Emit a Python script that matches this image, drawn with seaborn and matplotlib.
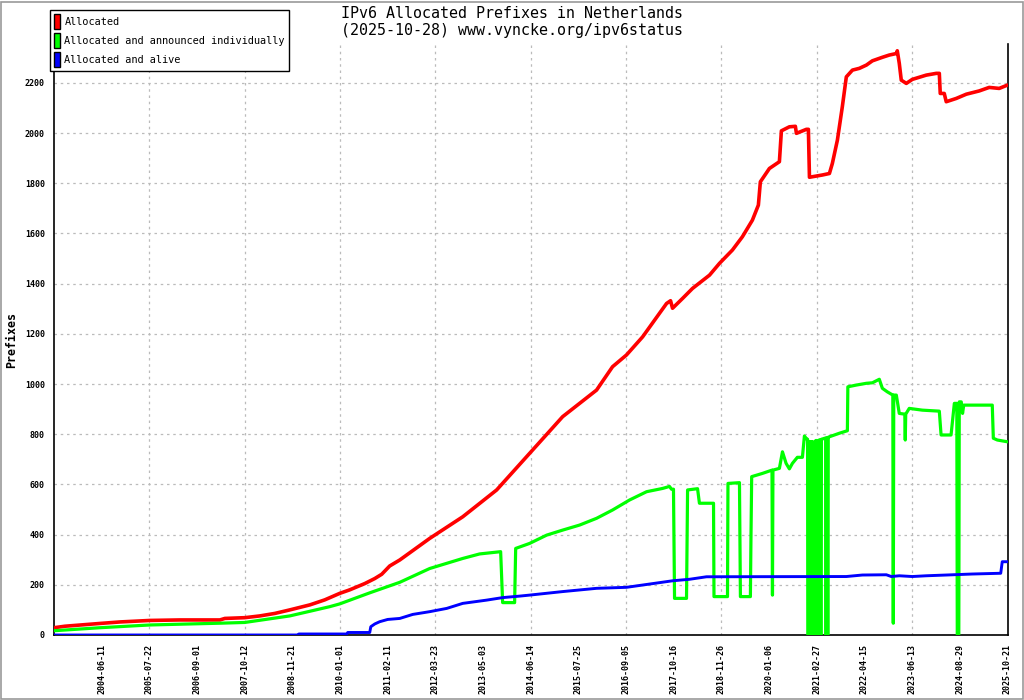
import numpy as np
import pandas as pd
import matplotlib
matplotlib.use("Agg")
import matplotlib.pyplot as plt
import matplotlib.patches as mpatches
import seaborn as sns

# x values are sample numbers along the time axis; a date label every 406 samples
TICK_STEP = 406
tick_labels = ["2004-06-11", "2005-07-22", "2006-09-01", "2007-10-12", "2008-11-21",
               "2010-01-01", "2011-02-11", "2012-03-23", "2013-05-03", "2014-06-14",
               "2015-07-25", "2016-09-05", "2017-10-16", "2018-11-26", "2020-01-06",
               "2021-02-27", "2022-04-15", "2023-06-13", "2024-08-29", "2025-10-21"]

series_names = ["Allocated", "Allocated and announced individually", "Allocated and alive"]

alloc_idx = [0, 94, 391, 562, 817, 1072, 1413, 1455, 1625, 1753, 1881, 2008, 2179, 2306,
             2434, 2519, 2647, 2732, 2791, 2859, 2945, 3200, 3481, 3770, 4051, 4332, 4621,
             4757, 4876, 5013, 5157, 5217, 5251, 5268, 5353, 5438, 5583, 5668, 5778, 5863,
             5948, 5999, 6016, 6093, 6178, 6195, 6263, 6314, 6323, 6408, 6425, 6434, 6544,
             6604, 6629, 6672, 6714, 6748, 6800, 6859, 6919, 6970, 7055, 7114, 7174, 7182,
             7199, 7216, 7259, 7310, 7429, 7514, 7540, 7548, 7582, 7599, 7684, 7770, 7880,
             7965, 8050, 8119]
alloc_val = [29, 35, 46, 52, 58, 60, 60, 66, 69, 76, 86, 100, 120, 140,
             166, 180, 205, 225, 242, 275, 299, 385, 471, 578, 724, 870, 976,
             1069, 1116, 1188, 1282, 1321, 1332, 1302, 1341, 1381, 1434, 1481, 1534, 1587,
             1653, 1713, 1806, 1859, 1886, 2009, 2025, 2027, 1999, 2015, 2015, 1824, 1833,
             1839, 1879, 1972, 2105, 2224, 2251, 2258, 2271, 2288, 2302, 2311, 2317, 2328,
             2278, 2211, 2198, 2214, 2231, 2238, 2238, 2158, 2158, 2125, 2138, 2155, 2168,
             2182, 2178, 2191]

announced_idx = [0, 391, 817, 1413, 1625, 2008, 2349, 2434, 2689, 2945, 3200, 3481, 3625,
                 3804, 3821, 3923, 3932, 4051, 4196, 4332, 4476, 4621, 4757, 4902, 5047,
                 5183, 5242, 5259, 5276, 5285, 5387, 5391, 5396, 5481, 5497, 5617, 5621,
                 5736, 5740, 5838, 5846, 5931, 5936, 5942, 6034, 6115, 6119, 6123, 6178,
                 6204, 6235, 6263, 6289, 6331, 6374, 6391, 6412,
                 6418, 6420, 6428, 6430, 6436, 6438, 6446, 6448, 6454, 6456, 6460, 6462,
                 6478, 6480, 6486, 6488, 6494, 6496, 6502, 6504, 6510, 6512, 6518, 6520,
                 6526, 6528, 6534, 6536, 6572, 6574, 6578, 6580, 6586, 6588, 6592, 6594,
                 6604, 6689, 6757, 6761, 6834, 6919, 6970, 7029, 7055, 7097, 7144, 7148,
                 7152, 7174, 7199, 7246, 7250, 7254, 7284, 7395, 7540, 7555, 7640, 7653,
                 7668, 7689, 7693, 7706, 7710, 7727, 7738, 7748, 7991, 8000, 8034, 8119]
announced_val = [17, 29, 40, 47, 50, 76, 113, 124, 168, 210, 265, 305, 323,
                 332, 129, 129, 345, 365, 398, 418, 438, 465, 498, 538, 571,
                 584, 592, 581, 581, 146, 146, 359, 578, 583, 525, 525, 153,
                 153, 604, 607, 153, 153, 392, 631, 644, 657, 159, 657, 664,
                 730, 684, 662, 684, 708, 708, 793, 780,
                 780, 0, 0, 770, 770, 0, 0, 770, 770, 0, 0, 770,
                 768, 0, 0, 775, 775, 0, 0, 775, 775, 0, 0, 778,
                 778, 0, 0, 780, 785, 0, 0, 785, 785, 0, 0, 788,
                 790, 804, 814, 989, 996, 1003, 1005, 1019, 983, 969, 956, 47,
                 956, 956, 883, 880, 777, 880, 903, 896, 892, 797, 797, 857,
                 923, 923, 0, 0, 929, 929, 883, 916, 916, 784, 777, 770]

alive_idx = [0, 2076, 2085, 2493, 2502, 2689, 2698, 2732, 2774, 2842, 2945, 3055, 3200,
             3345, 3481, 3685, 3821, 3966, 4051, 4332, 4621, 4876, 5072, 5268, 5412, 5557,
             6748, 6885, 7089, 7131, 7199, 7310, 7429, 7599, 7820, 8063, 8076, 8119]
alive_val = [0, 0, 4, 4, 10, 10, 33, 44, 53, 62, 66, 82, 93,
             106, 126, 139, 149, 155, 159, 173, 186, 190, 203, 216, 222, 232,
             233, 239, 240, 233, 236, 233, 236, 239, 243, 246, 292, 292]

colors = ["#ff0000", "#00ff00", "#0000ff"]

sns.set_style("white")
plt.rcParams["font.family"] = ["DejaVu Sans Mono"]
plt.rcParams["text.color"] = "black"
plt.rcParams["axes.labelcolor"] = "black"

fig = plt.figure(figsize=(10.24, 7.0), dpi=100)
ax = fig.add_axes([54 / 1024, 65 / 700, 954 / 1024, 591 / 700])

frames = [
    pd.DataFrame({"idx": alloc_idx, "value": alloc_val}),
    pd.DataFrame({"idx": announced_idx, "value": announced_val}),
    pd.DataFrame({"idx": alive_idx, "value": alive_val}),
]
widths = [2.6, 2.3, 2.1]
for df, c, w in zip(frames, colors, widths):
    sns.lineplot(data=df, x="idx", y="value", color=c, linewidth=w,
                 estimator=None, sort=False, ax=ax, zorder=3)

ax.set_xlim(0, 8125)
ax.set_ylim(0, 2355)

xt = [TICK_STEP * i for i in range(len(tick_labels) + 1)]
ax.set_xticks(xt)
ax.set_xticklabels([""] + tick_labels, rotation=90, fontsize=6.0, fontweight="bold")
ax.set_yticks(range(0, 2201, 200))
ax.set_yticklabels([str(v) for v in range(0, 2201, 200)], fontsize=6, fontweight="bold")
ax.tick_params(axis="both", direction="inout", length=8, width=1,
               colors="black", labelcolor="black", pad=2.5)

# dashed grid: every y tick, every second x tick
ax.yaxis.grid(True, color="#bbbbbb", linewidth=0.9, linestyle=(0, (2, 3)))
for t in xt[2:-1:2]:
    ax.axvline(t, color="#bbbbbb", linewidth=0.9, linestyle=(0, (2, 3)), zorder=0)
ax.set_axisbelow(True)

ax.set_xlabel("")
ax.set_ylabel("Prefixes", fontsize=8.4, fontweight="bold", labelpad=5)

ax.spines["top"].set_visible(False)
for s in ["left", "bottom", "right"]:
    ax.spines[s].set_color("black")
    ax.spines[s].set_linewidth(1.2)

handles = [mpatches.Patch(facecolor=c, edgecolor="black", label=n)
           for c, n in zip(colors, series_names)]
fig.legend(handles=handles, loc="upper left", bbox_to_anchor=(50 / 1024, 1 - 10 / 700),
           frameon=True, fancybox=False, edgecolor="black", framealpha=1,
           prop={"family": "DejaVu Sans Mono", "size": 7.4},
           handlelength=0.6, handleheight=1.9, handletextpad=0.4,
           borderpad=0.4, labelspacing=0.35, borderaxespad=0)

fig.text(0.5, 1 - 6 / 700,
         "IPv6 Allocated Prefixes in Netherlands\n(2025-10-28) www.vyncke.org/ipv6status",
         ha="center", va="top", fontsize=10.8, linespacing=1.2, color="black")

fig.patches.append(mpatches.Rectangle((0.5 / 1024, 1.5 / 700), 1022 / 1024, 697 / 700,
                                      transform=fig.transFigure, fill=False,
                                      edgecolor="#999999", linewidth=1.2))

fig.savefig("out.png", dpi=100)
